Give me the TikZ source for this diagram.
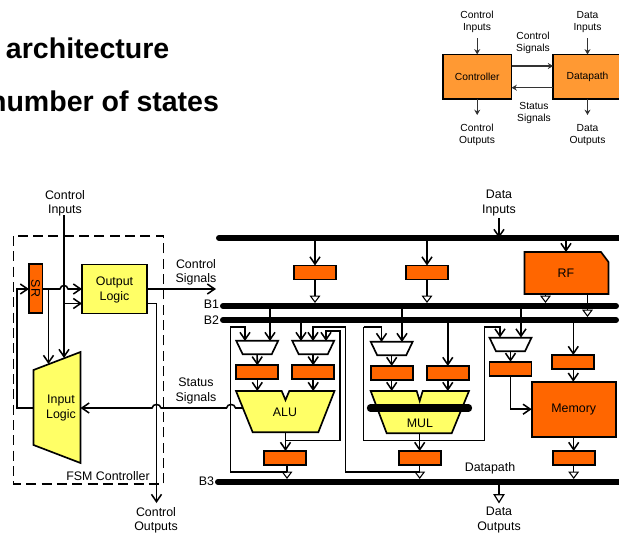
\documentclass[tikz,border=0pt]{standalone}
\usepackage{fontspec}
\setmainfont{Liberation Sans}
\usetikzlibrary{arrows.meta}
\definecolor{regorange}{HTML}{FF6600}
\definecolor{logicyellow}{HTML}{FFFF66}
\definecolor{miniorange}{HTML}{FF9933}
\tikzset{
  conn/.style={line width=1.15pt,-{Straight Barb[length=5.5pt,width=7.5pt]}},
  wire/.style={line width=1.15pt},
  openin/.style={line width=1.15pt,-{Triangle[open,length=5.5pt,width=8pt,line width=.8pt]}},
  openout/.style={line width=1.15pt,-{Triangle[open,length=7pt,width=8.5pt,line width=.9pt]}},
  bus/.style={line width=4.5pt,line cap=round},
  regbox/.style={draw,line width=1.25pt,fill=regorange,minimum width=31.5pt,minimum height=10.5pt,inner sep=0pt,outer sep=0pt},
  muxanchor/.style={minimum width=31.5pt,minimum height=10.2pt,inner sep=0pt,outer sep=0pt},
  bigshape/.style={draw,line width=1.25pt,line join=miter},
  lab/.style={font=\fontsize{9.3pt}{11.2pt}\selectfont,align=center,inner sep=0pt,outer sep=0pt,yshift=-0.6pt},
  minilab/.style={font=\fontsize{7.7pt}{9pt}\selectfont,align=center,inner sep=0pt,outer sep=0pt,yshift=-0.6pt},
  minibox/.style={draw,line width=1.4pt,fill=miniorange,minimum width=51.5pt,minimum height=33.5pt,inner sep=0pt,outer sep=0pt,font=\fontsize{7.7pt}{9pt}\selectfont},
  miniconn/.style={line width=.8pt,draw=black!80,-{Stealth[length=4pt,width=4.5pt]}},
  titletext/.style={font=\fontsize{21.4pt}{24pt}\selectfont\bfseries,inner sep=0pt,outer sep=0pt},
}
\newcommand{\muxat}[3]{%
  \draw[bigshape,fill=white] ({#2-21},{#3-6.8}) -- ({#2+21},{#3-6.8}) -- ({#2+14.5},{#3+6.8}) -- ({#2-14.5},{#3+6.8}) -- cycle;
  \node[muxanchor] (#1) at (#2,#3) {};}
\begin{document}
\begin{tikzpicture}[x=0.75pt,y=-0.75pt]
\useasboundingbox (0,0) rectangle (619,533);
\begin{scope}
\clip (0,0) rectangle (619,533);
% title
\node[titletext,anchor=base west] (t1) at (6,58.7) {architecture};
\node[titletext,anchor=base east] (t2) at (219,111) {number of states};

% mini overview
\node[minibox] (ctl) at (477.2,76.8) {\raisebox{-.6pt}{Controller}};
\node[minibox] (dp) at (587.5,76.8) {\raisebox{-.6pt}{Datapath}};
\node[minilab] (cilab) at (477,21) {Control\\Inputs};
\node[minilab] (dilab) at (587.5,21) {Data\\Inputs};
\node[minilab] (cslab) at (533,42.5) {Control\\Signals};
\node[minilab] (sslab) at (534,112) {Status\\Signals};
\node[minilab] (colab) at (477,134) {Control\\Outputs};
\node[minilab] (dolab) at (587.5,134) {Data\\Outputs};
\coordinate (cit) at (477.2,38);
\coordinate (dit) at (587.5,38);
\coordinate (cob) at (477.2,115);
\coordinate (dob) at (587.5,115);
\coordinate (csy) at (0,66);
\coordinate (ssy) at (0,87.7);
\draw[miniconn] (cit) -- (ctl.north);
\draw[miniconn] (dit) -- (dp.north);
\draw[miniconn] (ctl.south) -- (cob);
\draw[miniconn] (dp.south) -- (dob);
\draw[miniconn] (ctl.east |- csy) -- (dp.west |- csy);
\draw[miniconn] (dp.west |- ssy) -- (ctl.east |- ssy);

% FSM controller
\draw[line width=.8pt,dash pattern=on 7.5pt off 4pt] (13.5,236) rectangle (163.5,484);
\node[regbox,minimum width=36.75pt,minimum height=10.1pt,rotate=-90,font=\fontsize{9.3pt}{11pt}\selectfont] (sr) at (35.7,288.5) {SR};
\node[draw,line width=1.25pt,fill=logicyellow,minimum width=48.75pt,minimum height=36.75pt,inner sep=0pt,outer sep=0pt] (ol) at (114.5,289) {};
\node[lab] (oltext) at (114.5,289) {Output\\Logic};
\draw[bigshape,fill=logicyellow] (33.5,370) -- (80.5,352) -- (80.5,463) -- (33.5,445) -- cycle;
\node[lab] (il) at (61,407.5) {Input\\Logic};
\coordinate (ilw) at (33.5,408);
\coordinate (ile) at (80.5,408);
\coordinate (cistart) at (64,215);
\coordinate (cien) at (64,358);
\coordinate (srbr) at (48.5,289);
\coordinate (srbrd) at (48.5,364);
\coordinate (fbl) at (17,408);
\coordinate (ol2) at (82,303.5);
\coordinate (cibr) at (64,303.5);
\coordinate (oly) at (147,303.5);
\coordinate (cotop) at (156.5,303.5);
\coordinate (cobot) at (156.5,503);
\coordinate (csend) at (216,289);
\coordinate (aluw) at (242.9,408);
\draw[conn] (cistart) -- (cien);
\draw[conn] (sr.north |- srbr) -- (60,289) .. controls (60.8,284.3) and (67.2,284.3) .. (68,289) -- (ol.west);
\draw[conn] (srbr) -- (srbrd);
\draw[conn] (cibr) -- (ol2);
\draw[conn] (ilw) -- (fbl) |- (sr.south |- srbr);
\draw[conn] (ol.east) -- (csend);
\draw[conn] (oly) -- (cotop) -- (cobot);
\draw[conn] (aluw) -- (235.5,408) .. controls (234.7,403.3) and (227.3,403.3) .. (226.5,408) -- (161,408) .. controls (160.2,403.3) and (152.8,403.3) .. (152,408) -- (ile);

% labels
\node[lab] (cinl) at (65,202.5) {Control\\Inputs};
\node[lab] (dinl) at (499,202.5) {Data\\Inputs};
\node[lab] (csl) at (196,271.5) {Control\\Signals};
\node[lab] (ssl) at (196,390.5) {Status\\Signals};
\node[lab] (coutl) at (156,519.5) {Control\\Outputs};
\node[lab] (doutl) at (499,519.5) {Data\\Outputs};
\node[lab] (fsml) at (108,475) {FSM Controller};
\node[lab] (dpl) at (490,467) {Datapath};
\node[lab,anchor=east] (b1l) at (219,303) {B1};
\node[lab,anchor=east] (b2l) at (219,319) {B2};
\node[lab,anchor=east] (b3l) at (214,480) {B3};

% bus reference coordinates: top and bottom edges
\coordinate (b0w) at (219,238);  \coordinate (b0e) at (625,238);
\coordinate (b1w) at (223,306);  \coordinate (b1e) at (616,306);
\coordinate (b2w) at (223,320);  \coordinate (b2e) at (616,320);
\coordinate (b3w) at (218,482);  \coordinate (b3e) at (625,482);
\coordinate (b0b) at (0,241);
\coordinate (b1t) at (0,303);
\coordinate (b2t) at (0,317);
\coordinate (b3t) at (0,479);
\coordinate (b3b) at (0,485);
\coordinate (aluy) at (0,391);

% registers, muxes
\node[regbox] (r1) at (315,272.5) {};
\node[regbox] (r2) at (427,272.5) {};
\node[regbox] (r3) at (257.3,372.3) {};
\node[regbox] (r4) at (313.2,372.3) {};
\node[regbox] (r5) at (391.7,373) {};
\node[regbox] (r6) at (447.8,373) {};
\node[regbox] (r7) at (510.5,368.8) {};
\node[regbox] (r8) at (573.3,362) {};
\node[regbox] (r9) at (573.7,458) {};
\node[regbox] (r10) at (285.3,458) {};
\node[regbox] (r11) at (419.7,458) {};
\muxat{m1}{257.2}{347.5}
\muxat{m2}{313.2}{347.5}
\muxat{m3}{391.7}{348.5}
\muxat{m5}{510.5}{344.5}

% RF
\draw[bigshape,fill=regorange] (524.5,252) -- (601,252) -- (608.5,262) -- (608.5,294) -- (524.5,294) -- cycle;
\node[lab] (rf) at (566,272.5) {RF};
\coordinate (rft) at (566,252);
\coordinate (rfb1) at (545.5,294);
\coordinate (rfb2) at (587.5,294);

% memory
\node[draw,line width=1.25pt,fill=regorange,minimum width=63pt,minimum height=41.25pt,inner sep=0pt,outer sep=0pt] (mem) at (573.7,409.2) {};
\node[lab] (memtext) at (573.7,409.2) {Memory};

% ALU and MUL
\draw[bigshape,fill=logicyellow] (236,391) -- (281.7,391) -- (285.5,400) -- (289.3,391) -- (334.5,391) -- (318.3,432.3) -- (252.7,432.3) -- cycle;
\node[lab] (alu) at (285,411) {ALU};
\coordinate (aluout) at (285.5,432.3);
\draw[bigshape,fill=logicyellow] (370.7,391) -- (416.7,391) -- (419.7,401) -- (422.7,391) -- (469,391) -- (451.7,433.3) -- (386.7,433.3) -- cycle;
\coordinate (mbarw) at (370.5,408);
\coordinate (mbare) at (468.5,408);
\draw[line width=5.5pt,line cap=round] (mbarw) -- (mbare);
\node[lab] (mul) at (420,422) {MUL};
\coordinate (mulout) at (419.7,433.3);

% data connectors
\coordinate (dinstart) at (499,218);
\draw[conn] (dinstart) -- (dinstart |- b0w);
\draw[conn] (r1.north |- b0b) -- (r1.north);
\draw[conn] (r2.north |- b0b) -- (r2.north);
\draw[conn] (rft |- b0b) -- (rft);
\draw[openin] (r1.south) -- (r1.south |- b1t);
\draw[openin] (r2.south) -- (r2.south |- b1t);
\draw[openin] (rfb1) -- (rfb1 |- b1t);
\draw[openin] (rfb2) -- (rfb2 |- b2t);

% alu inputs
\coordinate (in1) at (245,341);
\coordinate (in2) at (270,341);
\coordinate (in3) at (301,341);
\coordinate (in4) at (313,341);
\coordinate (in5) at (326,341);
\coordinate (in6) at (381.5,342);
\coordinate (in7) at (402,342);
\coordinate (in8) at (500,337.5);
\coordinate (in9) at (521,337.5);
\draw[conn] (in2 |- b1w) -- (in2);
\draw[conn] (in3 |- b2w) -- (in3);
\draw[conn] (in7 |- b1w) -- (in7);
\draw[conn] (in9 |- b1w) -- (in9);
\draw[conn] (r6.north |- b2w) -- (r6.north);
\draw[conn] (r8.north |- b2w) -- (r8.north);

\draw[conn] (m1.south) -- (r3.north);
\draw[conn] (m2.south) -- (r4.north);
\draw[conn] (m3.south) -- (r5.north);
\draw[conn] (m5.south) -- (r7.north);
\draw[conn] (r3.south) -- (r3.south |- aluy);
\draw[conn] (r4.south) -- (r4.south |- aluy);
\draw[conn] (r5.south) -- (r5.south |- aluy);
\draw[conn] (r6.south) -- (r6.south |- aluy);
\draw[conn] (r8.south) -- (mem.north -| r8.south);
\draw[conn] (mem.south -| r9.north) -- (r9.north);
\draw[conn] (aluout) -- (r10.north -| aluout);
\draw[conn] (mulout) -- (r11.north);
\draw[openin] (r9.south) -- (r9.south |- b3t);
\draw[openin] (287,465) -- (287,479);
\draw[openin] (r11.south) -- (r11.south |- b3t);

% routed feedback
\draw[conn] (287,472) -| (230.6,327) -| (in1);
\draw[conn] (419.7,472) -| (345.5,327) -| (in4);
\draw[conn] (285.5,440.3) -| (340,331) -| (in5);
\draw[wire] (363.5,327) |- (484.5,440.3);
\draw[conn] (363.5,327) -| (in6);
\draw[conn] (484.5,440.3) |- (500,327) -- (in8);
\draw[conn] (r7.south) |- (mem.west);

% output bus connector
\draw[openout] (499,485) -- (499,503.5);

% buses
\draw[bus] (b0w) -- (b0e);
\draw[bus] (b1w) -- (b1e);
\draw[bus] (b2w) -- (b2e);
\draw[bus] (b3w) -- (b3e);
\end{scope}
\end{tikzpicture}
\end{document}
